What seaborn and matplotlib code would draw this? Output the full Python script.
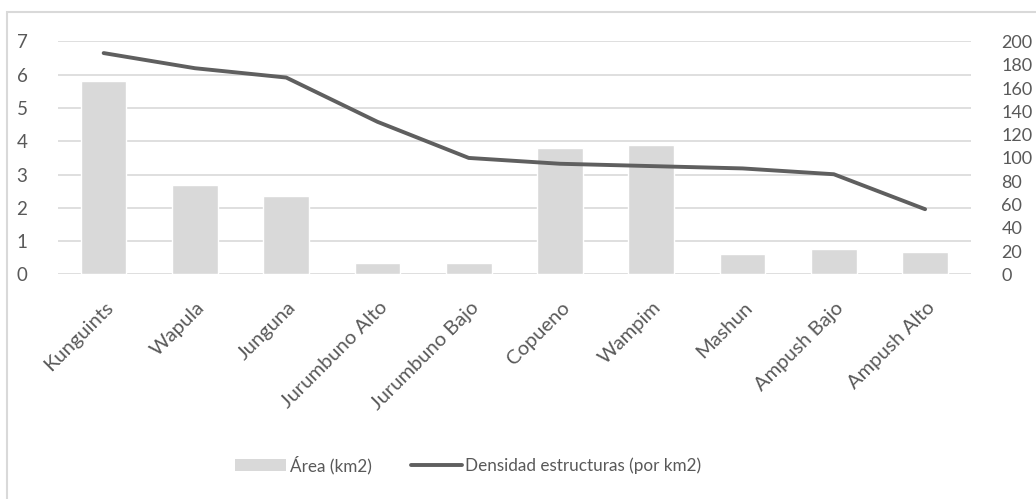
import numpy as np
import pandas as pd
import seaborn as sns
import matplotlib.pyplot as plt
import matplotlib.transforms as mtransforms
from matplotlib.patches import Rectangle, Patch
from matplotlib.lines import Line2D

# Data
comunidades = ['Kunguints', 'Wapula', 'Junguna', 'Jurumbuno Alto', 'Jurumbuno Bajo',
               'Copueno', 'Wampim', 'Mashun', 'Ampush Bajo', 'Ampush Alto']
area_km2 = [5.8, 2.7, 2.35, 0.35, 0.35, 3.8, 3.88, 0.62, 0.77, 0.68]
densidad = [190, 177, 169, 131, 100, 95, 93, 91, 86, 56]

df = pd.DataFrame({'comunidad': comunidades, 'area': area_km2, 'densidad': densidad})

sns.set_theme(style='white')
plt.rcParams['font.family'] = ['Lato', 'DejaVu Sans']
text_col = '#595959'
grid_col = '#d9d9d9'

fig = plt.figure(figsize=(10.36, 4.99), dpi=100)
ax = fig.add_axes([0.056, 0.450, 0.881, 0.467])

sns.barplot(data=df, x='comunidad', y='area', color='#d9d9d9', width=0.5,
            saturation=1, ax=ax, zorder=2)
ax.set_ylim(0, 7)
ax.set_xlim(-0.5, 9.5)
ax.set_yticks(range(0, 8))
ax.yaxis.grid(True, color=grid_col, linewidth=1.2, zorder=0)
ax.set_axisbelow(True)
ax.set_xlabel('')
ax.set_ylabel('')
for s in ax.spines.values():
    s.set_visible(False)
ax.tick_params(axis='y', length=0, labelsize=13.5, colors=text_col, pad=22)
ax.tick_params(axis='x', length=0, labelsize=14.5, colors=text_col, pad=22)
shift = mtransforms.ScaledTranslation(7 / 100, 0, fig.dpi_scale_trans)
for lbl in ax.get_xticklabels():
    lbl.set_rotation(45)
    lbl.set_ha('right')
    lbl.set_va('center')
    lbl.set_rotation_mode('anchor')
    lbl.set_transform(lbl.get_transform() + shift)

ax2 = ax.twinx()
sns.lineplot(x=np.arange(len(comunidades)), y=df['densidad'], color='#5f5f5f',
             linewidth=2.8, ax=ax2)
ax2.set_ylim(0, 200)
ax2.set_yticks(range(0, 201, 20))
ax2.set_ylabel('')
for s in ax2.spines.values():
    s.set_visible(False)
ax2.tick_params(axis='y', length=0, labelsize=13, colors=text_col, pad=22)
ax2.set_xlim(-0.5, 9.5)

# outer chart border
fig.patches.append(Rectangle((7 / 1036, -0.1), 1.2, 1 - 12 / 499 + 0.1,
                             transform=fig.transFigure, fill=False,
                             edgecolor='#d9d9d9', linewidth=1.5))

handles = [Patch(facecolor='#d9d9d9', edgecolor='none'),
           Line2D([0], [0], color='#5f5f5f', linewidth=2.8)]
fig.legend(handles, ['Área (km2)', 'Densidad estructuras (por km2)'],
           loc='center', bbox_to_anchor=(0.452, 0.068), ncol=2, frameon=False,
           fontsize=12.3, labelcolor=text_col, handlelength=3.0,
           handletextpad=0.2, columnspacing=2.3)

fig.savefig('out.png', dpi=100)
